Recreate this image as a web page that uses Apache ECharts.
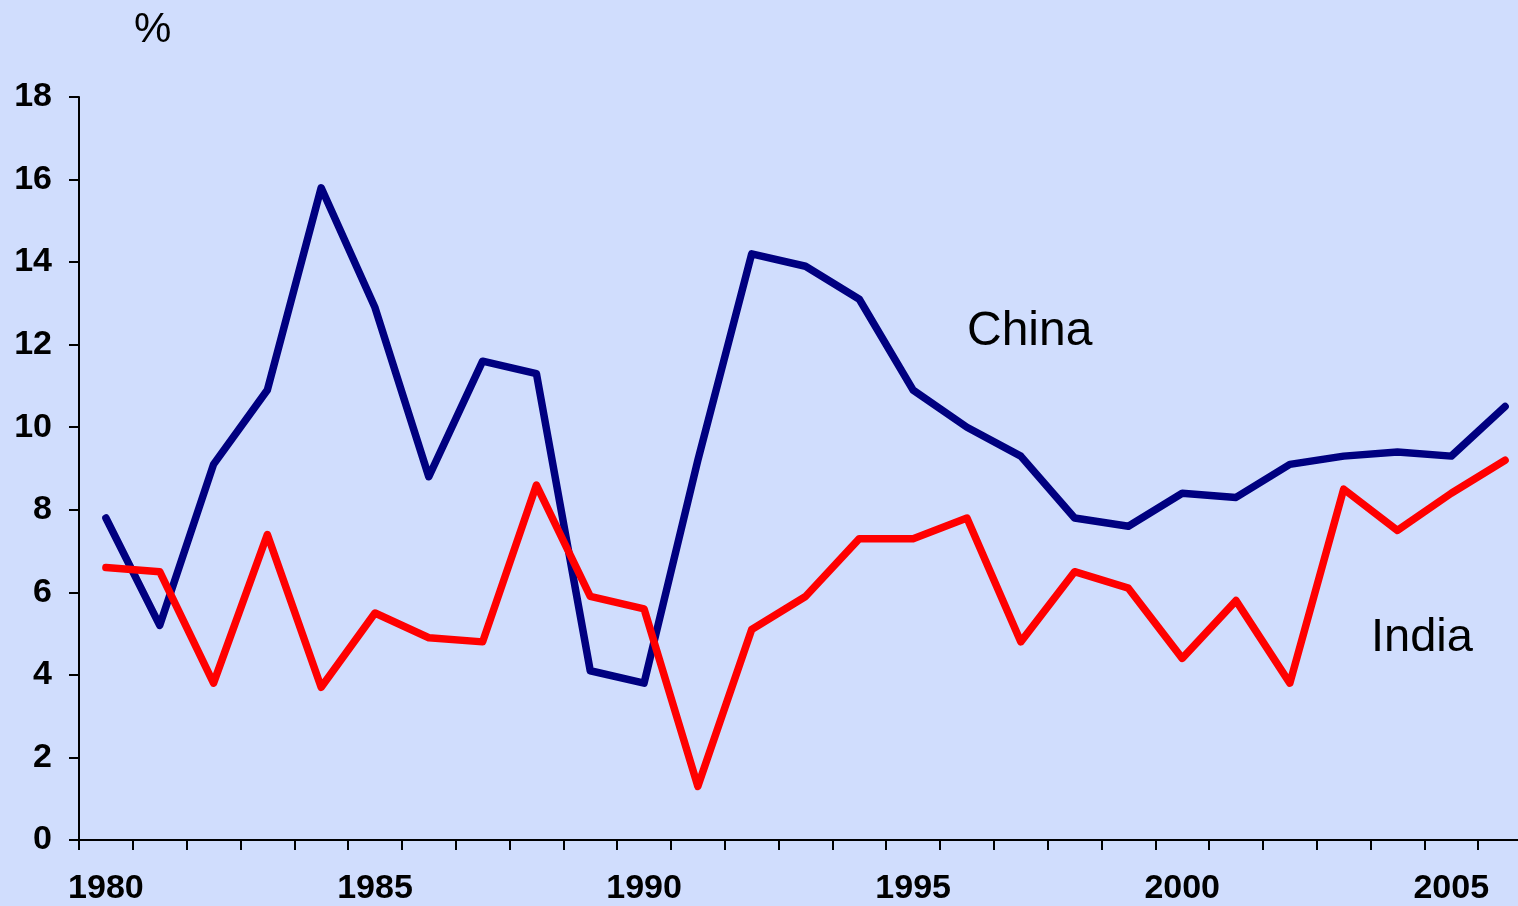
<!DOCTYPE html>
<html>
<head>
<meta charset="utf-8">
<script src="https://cdn.jsdelivr.net/npm/echarts@6/dist/echarts.min.js"></script>
<style>
  html, body { margin: 0; padding: 0; background: #d0ddfd; }
  #chart { width: 1518px; height: 906px; }
</style>
</head>
<body>
<div id="chart"></div>
<script>
var years = ['1980', '1981', '1982', '1983', '1984', '1985', '1986', '1987', '1988', '1989',
  '1990', '1991', '1992', '1993', '1994', '1995', '1996', '1997', '1998', '1999',
  '2000', '2001', '2002', '2003', '2004', '2005', '2006']
var china = [7.8, 5.2, 9.1, 10.9, 15.8, 12.9, 8.8, 11.6, 11.3, 4.1,
  3.8, 9.2, 14.2, 13.9, 13.1, 10.9, 10.0, 9.3, 7.8, 7.6,
  8.4, 8.3, 9.1, 9.3, 9.4, 9.3, 10.5]
var india = [6.6, 6.5, 3.8, 7.4, 3.7, 5.5, 4.9, 4.8, 8.6, 5.9,
  5.6, 1.3, 5.1, 5.9, 7.3, 7.3, 7.8, 4.8, 6.5, 6.1,
  4.4, 5.8, 3.8, 8.5, 7.5, 8.4, 9.2]

var chart = echarts.init(document.getElementById('chart'))
var axisFont = {
  color: '#000',
  fontFamily: 'Liberation Sans, Arial, sans-serif',
  fontWeight: 'bold',
  fontSize: 34
}
var option = {
  backgroundColor: '#d0ddfd',
  animation: false,
  grid: {
    left: 79,
    right: -14,
    top: 97,
    bottom: 66,
    containLabel: false,
    outerBoundsMode: 'none'
  },
  graphic: [
    {
      type: 'text',
      left: 134,
      top: 9,
      style: { text: '%', fontSize: 42, fontFamily: 'Liberation Sans, Arial, sans-serif', fill: '#000' }
    },
    {
      type: 'text',
      left: 967,
      top: 308,
      style: { text: 'China', fontSize: 48, fontFamily: 'Liberation Sans, Arial, sans-serif', fill: '#000' }
    },
    {
      type: 'text',
      left: 1371,
      top: 615,
      style: { text: 'India', fontSize: 47, fontFamily: 'Liberation Sans, Arial, sans-serif', fill: '#000' }
    }
  ],
  xAxis: {
    type: 'category',
    data: years,
    boundaryGap: true,
    axisLine: { lineStyle: { color: '#000', width: 2 } },
    axisTick: { show: true, length: 10, interval: 0, lineStyle: { color: '#000', width: 2 } },
    axisLabel: Object.assign({ interval: 4, margin: 32 }, axisFont),
    splitLine: { show: false }
  },
  yAxis: {
    type: 'value',
    min: 0,
    max: 18,
    interval: 2,
    axisLine: { show: true, lineStyle: { color: '#000', width: 2 } },
    axisTick: { show: true, length: 10, lineStyle: { color: '#000', width: 2 } },
    axisLabel: Object.assign({ margin: 27 }, axisFont),
    splitLine: { show: false }
  },
  series: [
    {
      name: 'China',
      type: 'line',
      data: china,
      symbol: 'none',
      lineStyle: { color: '#000080', width: 7.5, cap: 'round', join: 'round' }
    },
    {
      name: 'India',
      type: 'line',
      data: india,
      symbol: 'none',
      lineStyle: { color: '#ff0000', width: 7.5, cap: 'round', join: 'round' }
    }
  ]
}
chart.setOption(option)
</script>
</body>
</html>
